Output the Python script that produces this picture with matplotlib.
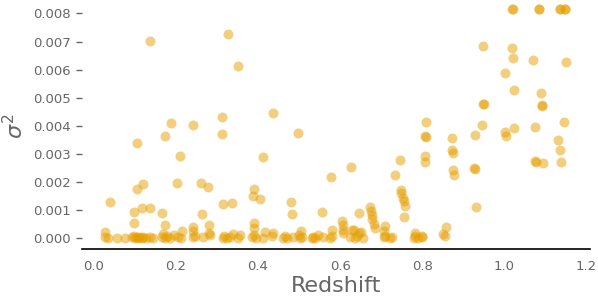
import matplotlib
matplotlib.use("Agg")
import matplotlib.pyplot as plt

# scattered points above the floor
redshift_hi = [
    0.137, 0.327, 0.351, 0.436, 0.311, 0.311, 0.242, 0.188, 0.172, 0.106, 0.498,
    1.020, 1.021, 1.085, 1.086, 1.135, 1.136, 1.148, 1.149,
    0.948, 1.020, 1.021, 1.071, 1.150, 1.003, 1.023, 1.091,
    0.949, 0.950, 1.093, 1.092, 0.809, 0.946, 1.076, 1.145, 1.024,
    0.808, 0.810, 0.872, 0.928, 1.002, 1.005, 1.132, 1.137,
    0.872, 0.876, 0.808, 0.808, 0.875, 0.877, 0.927, 0.929, 0.931,
    1.075, 1.077, 1.094, 1.139, 0.746, 0.735, 0.626, 0.578,
    0.748, 0.749, 0.753, 0.755, 0.758, 0.757,
    0.556, 0.647,
    0.674, 0.675, 0.677, 0.679, 0.682, 0.684,
    0.710, 0.706, 0.605, 0.606, 0.607, 0.606, 0.580, 0.628, 0.645,
    0.857, 0.852, 0.855, 0.783,
    0.210, 0.413, 0.391, 0.387, 0.405, 0.481, 0.484, 0.039, 0.104, 0.119,
    0.203, 0.260, 0.279, 0.098, 0.118, 0.137, 0.165, 0.263, 0.315, 0.337,
    0.098, 0.173, 0.242, 0.242, 0.280, 0.280, 0.389, 0.389, 0.214, 0.027,
    0.417, 0.437, 0.504, 0.633, 0.650,
]
sigma2_hi = [
    0.00703, 0.00728, 0.00613, 0.00445, 0.00432, 0.00370, 0.00402, 0.00411, 0.00364, 0.00339, 0.00376,
    0.00815, 0.00815, 0.00815, 0.00815, 0.00815, 0.00815, 0.00815, 0.00815,
    0.00683, 0.00676, 0.00642, 0.00635, 0.00626, 0.00587, 0.00528, 0.00517,
    0.00479, 0.00476, 0.00474, 0.00470, 0.00415, 0.00404, 0.00397, 0.00413, 0.00391,
    0.00364, 0.00360, 0.00356, 0.00366, 0.00377, 0.00363, 0.00348, 0.00313,
    0.00314, 0.00302, 0.00294, 0.00272, 0.00243, 0.00226, 0.00251, 0.00246, 0.00112,
    0.00275, 0.00270, 0.00269, 0.00273, 0.00278, 0.00225, 0.00253, 0.00217,
    0.00172, 0.00160, 0.00145, 0.00132, 0.00115, 0.00077,
    0.00093, 0.00091,
    0.00112, 0.00097, 0.00082, 0.00067, 0.00052, 0.00036,
    0.00045, 0.00026, 0.00063, 0.00046, 0.00030, 0.00018, 0.00030, 0.00030, 0.00020,
    0.00040, 0.00014, 0.00010, 0.00018,
    0.00294, 0.00288, 0.00177, 0.00152, 0.00139, 0.00128, 0.00085, 0.00128, 0.00175, 0.00192,
    0.00196, 0.00196, 0.00184, 0.00095, 0.00107, 0.00107, 0.00091, 0.00085, 0.00121, 0.00125,
    0.00055, 0.00047, 0.00041, 0.00026, 0.00047, 0.00018, 0.00053, 0.00036, 0.00026, 0.00024,
    0.00024, 0.00018, 0.00026, 0.00030, 0.00024,
]

# points sitting on the floor near zero
redshift_lo = [
    0.027, 0.035, 0.055, 0.076, 0.092, 0.097, 0.100, 0.104, 0.108, 0.112,
    0.116, 0.120, 0.128, 0.137, 0.145, 0.165, 0.168, 0.172, 0.178, 0.185,
    0.195, 0.206, 0.212, 0.242, 0.246, 0.267, 0.283, 0.315, 0.318, 0.325,
    0.332, 0.340, 0.352, 0.356, 0.385, 0.389, 0.395, 0.413, 0.433, 0.462,
    0.466, 0.470, 0.486, 0.500, 0.502, 0.507, 0.531, 0.535, 0.539, 0.545,
    0.559, 0.576, 0.580, 0.624, 0.637, 0.641, 0.657, 0.706, 0.710, 0.722,
    0.726, 0.779, 0.783, 0.790, 0.799, 0.800,
]
sigma2_lo = [
    0.00005, 0.00002, 0.00001, 0.00001, 0.00003, 0.00010, 0.00002, 0.00005, 0.00000, 0.00003,
    0.00001, 0.00004, 0.00002, 0.00006, 0.00001, 0.00004, 0.00015, 0.00002, 0.00008, 0.00001,
    0.00012, 0.00003, 0.00000, 0.00003, 0.00010, 0.00004, 0.00012, 0.00002, 0.00010, 0.00001,
    0.00005, 0.00015, 0.00002, 0.00012, 0.00004, 0.00012, 0.00001, 0.00002, 0.00008, 0.00002,
    0.00010, 0.00000, 0.00003, 0.00012, 0.00001, 0.00004, 0.00001, 0.00006, 0.00002, 0.00012,
    0.00003, 0.00001, 0.00010, 0.00004, 0.00001, 0.00010, 0.00002, 0.00004, 0.00010, 0.00001,
    0.00005, 0.00002, 0.00008, 0.00000, 0.00003, 0.00010,
]

grey = "#666666"

fig = plt.figure(figsize=(5.98, 3.0), dpi=100)
ax = fig.add_axes([0.137, 0.17, 0.85, 0.82])

ax.scatter(redshift_hi + redshift_lo, sigma2_hi + sigma2_lo,
           s=52, color="#E69F00", alpha=0.5, linewidths=0)

ax.set_xlim(-0.0293, 1.2098)
ax.set_ylim(-0.00038, 0.00837)
ax.set_xticks([0.0, 0.2, 0.4, 0.6, 0.8, 1.0, 1.2])
ax.set_yticks([0.000, 0.001, 0.002, 0.003, 0.004, 0.005, 0.006, 0.007, 0.008])
ax.yaxis.set_major_formatter(matplotlib.ticker.FormatStrFormatter("%.3f"))

for side in ["top", "right", "left"]:
    ax.spines[side].set_visible(False)
ax.spines["bottom"].set_color("black")
ax.spines["bottom"].set_linewidth(1.2)

ax.tick_params(axis="x", length=0, pad=8, labelsize=9.5, labelcolor=grey)
ax.tick_params(axis="y", length=4, width=1, color=grey, pad=4,
               labelsize=9.5, labelcolor=grey)

ax.set_xlabel("Redshift", fontsize=16, color=grey, labelpad=2)
ax.set_ylabel(r"$\sigma^2$", fontsize=16, color=grey, labelpad=4)

fig.savefig("out.png", dpi=100)
